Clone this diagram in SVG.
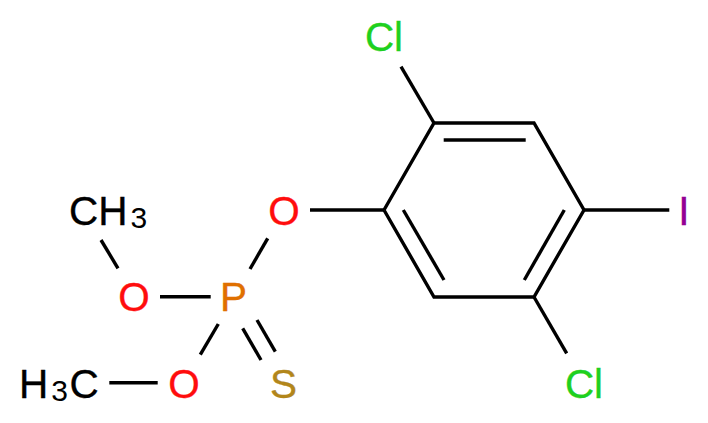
<svg xmlns="http://www.w3.org/2000/svg" width="708" height="423" viewBox="0 0 708 423">
<style>
text{font-family:"Liberation Sans",Arial,sans-serif;font-size:40.5px;stroke-width:.35}
.m{text-anchor:middle}
.s{font-size:30px;stroke-width:0}
#bonds line{stroke:#000;stroke-width:3.4;stroke-linecap:butt}
</style>
<rect width="708" height="423" fill="#fff"/>
<g id="bonds">
<polyline points="384,210 434,123 534,123 584,210 534,297 434,297 384,210" fill="none" stroke="#000" stroke-width="3.4" stroke-linejoin="miter"/>
<line x1="443.7" y1="140" x2="525.7" y2="140"/>
<line x1="403.3" y1="210" x2="444" y2="280"/>
<line x1="564.3" y1="210" x2="524.3" y2="280"/>
<line x1="434" y1="123" x2="401" y2="66.7"/>
<line x1="534" y1="297" x2="566.7" y2="353.3"/>
<line x1="584" y1="210" x2="669.3" y2="210"/>
<line x1="310" y1="210" x2="384" y2="210"/>
<line x1="267.7" y1="238.3" x2="250" y2="269"/>
<line x1="210.7" y1="296.7" x2="160" y2="296.7"/>
<line x1="118" y1="268.3" x2="101" y2="240"/>
<line x1="218.3" y1="324" x2="200.3" y2="354.7"/>
<line x1="157.7" y1="382.7" x2="109.3" y2="382.7"/>
<line x1="257" y1="320" x2="275.3" y2="351.7"/>
<line x1="242.7" y1="328.3" x2="261" y2="360"/>
</g>
<g id="cl1"><text x="384" y="51" class="m" fill="#1fd01f" stroke="#1fd01f">Cl</text></g>
<g id="cl2"><text x="584" y="398" class="m" fill="#1fd01f" stroke="#1fd01f">Cl</text></g>
<g id="i"><text x="684" y="225" class="m" fill="#940094" stroke="#940094">I</text></g>
<g id="o1"><text x="284" y="224.5" class="m" fill="#ff0d0d" stroke="#ff0d0d">O</text></g>
<g id="o2"><text x="134" y="311" class="m" fill="#ff0d0d" stroke="#ff0d0d">O</text></g>
<g id="o3"><text x="184" y="398" class="m" fill="#ff0d0d" stroke="#ff0d0d">O</text></g>
<g id="p"><text x="233.5" y="311" class="m" fill="#e07000" stroke="#e07000">P</text></g>
<g id="s"><text x="283.5" y="398" class="m" fill="#b2861b" stroke="#b2861b">S</text></g>
<g id="ch3"><text x="69" y="225" fill="#000" stroke="#000">CH<tspan class="s" dx="3" dy="2.5">3</tspan></text></g>
<g id="h3c"><text x="19" y="398" fill="#000" stroke="#000">H<tspan class="s" dx="3" dy="2.5">3</tspan><tspan dx="1.5" dy="-2.5">C</tspan></text></g>
</svg>
